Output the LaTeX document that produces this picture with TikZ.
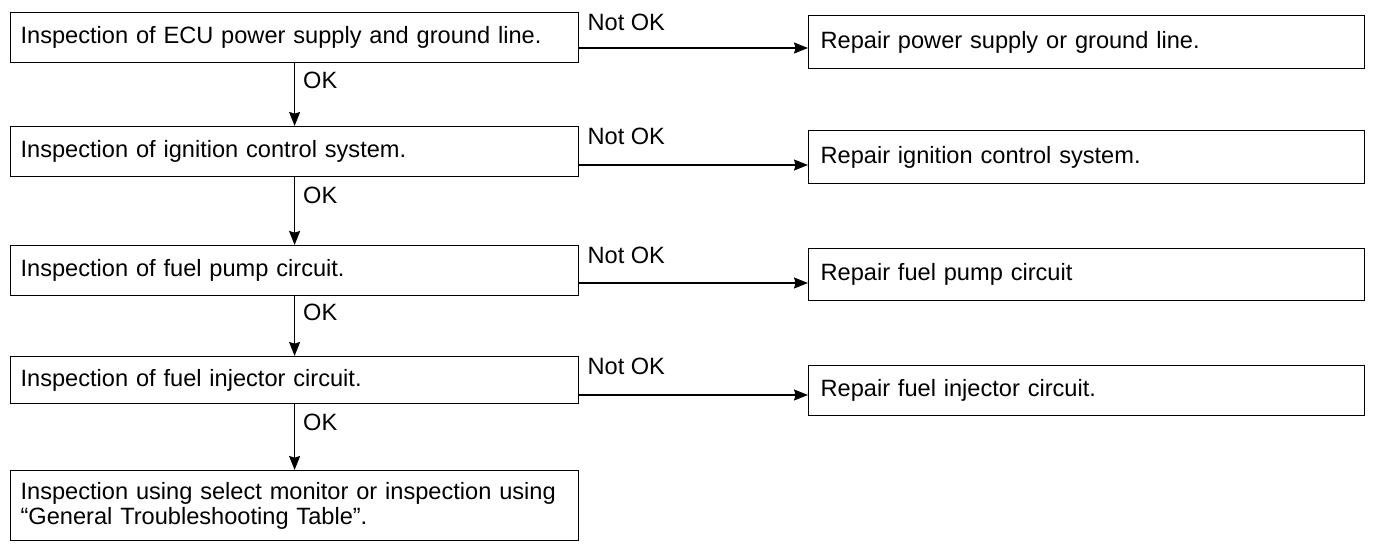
\documentclass[tikz,border=0pt]{standalone}
\usepackage{fontspec}
\setmainfont{Liberation Sans}
\usetikzlibrary{positioning,arrows.meta}
\tikzset{
    chk/.style={rectangle,draw,line width=0.6pt,anchor=north west,align=left,
        text width=274pt,inner xsep=5pt,inner ysep=2pt,minimum height=25pt},
    fix/.style={chk,text width=266pt,inner xsep=6pt,minimum height=26.5pt},
    flow/.style={-{Stealth[length=7pt,width=5.5pt,inset=0.8pt]},line width=0.6pt},
}
\begin{document}
\begin{tikzpicture}[
    x=0.5pt,y=-0.5pt,
    every node/.style={font=\fontsize{11.8}{12.5}\selectfont},
    ok/.style={right,inner sep=1pt,xshift=3pt},
    nok/.style={anchor=north west,inner sep=1pt,xshift=3pt},
]
\useasboundingbox (0,0) rectangle (1375,551);
% checks, left column
\node[chk] (l1) at (10,12)  {Inspection of ECU power supply and ground line.};
\node[chk] (l2) at (10,126) {Inspection of ignition control system.};
\node[chk] (l3) at (10,245) {Inspection of fuel pump circuit.};
\node[chk,minimum height=23.5pt] (l4) at (10,356) {Inspection of fuel injector circuit.};
\node[chk,minimum height=35pt] (l5) at (10,470) {Inspection using select monitor or inspection using\\``General Troubleshooting Table''.};
% repairs, right column
\node[fix] (r1) at (808,15)  {Repair power supply or ground line.};
\node[fix] (r2) at (808,130) {Repair ignition control system.};
\node[fix,minimum height=26pt] (r3) at (808,248) {Repair fuel pump circuit};
\node[fix,minimum height=25pt] (r4) at (808,365) {Repair fuel injector circuit.};
% OK path
\foreach \a/\b in {l1/l2,l2/l3,l3/l4,l4/l5}
  \draw[flow] (\a.south) -- node[ok,pos=0.27] (ok\a) {OK} (\b.north);
% Not OK path
\foreach \a/\b/\d in {l1/r1/18pt,l2/r2/19.5pt,l3/r3/19pt,l4/r4/19.5pt}{
  \draw[flow] ([yshift=-\d]\a.north east) -- ([yshift=-\d]\a.north east -| \b.west);
  \node[nok] (nok\a) at (\a.north east) {Not OK};
}
\end{tikzpicture}
\end{document}
